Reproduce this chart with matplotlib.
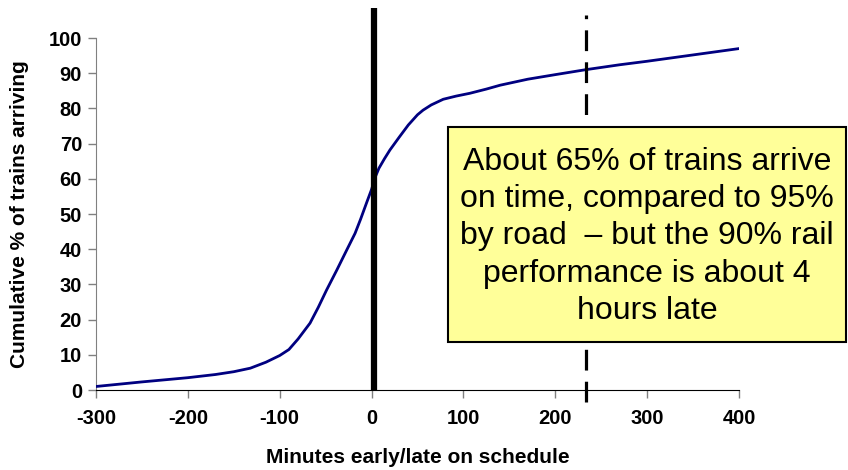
import matplotlib
matplotlib.use("Agg")
import matplotlib.pyplot as plt
from matplotlib.patches import Rectangle

plt.rcParams['font.family'] = ['Liberation Sans', 'DejaVu Sans']

# cumulative arrival curve (minutes vs % of trains)
minutes = [-300, -250, -200, -170, -150, -132, -115, -100, -90, -80, -67, -58,
           -49, -38, -27, -18, -12, -5, 0, 4, 8, 14, 20, 30, 40, 50, 56, 65,
           78, 92, 107, 125, 140, 170, 200, 233, 270, 300, 350, 400]
cum_pct = [1.0, 2.3, 3.5, 4.4, 5.2, 6.2, 7.9, 9.8, 11.5, 14.5, 19.0, 23.5,
           28.4, 34.0, 39.8, 44.5, 48.5, 53.5, 57.0, 60.5, 63.0, 65.7, 68.2,
           71.8, 75.3, 78.2, 79.5, 81.0, 82.6, 83.5, 84.3, 85.5, 86.6, 88.3,
           89.6, 91.0, 92.4, 93.4, 95.2, 97.0]

on_time_x = 3      # schedule marker
late90_x = 233     # 90% of trains arrived

xticks = [-300, -200, -100, 0, 100, 200, 300, 400]
yticks = list(range(0, 101, 10))

note = ("About 65% of trains arrive\non time, compared to 95%\n"
        "by road  \u2013 but the 90% rail\nperformance is about 4\nhours late")

fig = plt.figure(figsize=(8.48, 4.70), dpi=100)
ax = fig.add_axes([0.1132, 0.1702, 0.7583, 0.7489])

ax.plot(minutes, cum_pct, color='#000080', lw=2.0, zorder=3)

# vertical reference lines run a bit past the axes
ax.plot([on_time_x, on_time_x], [0, 108.5], color='black', lw=4.5,
        solid_capstyle='butt', clip_on=False, zorder=4)
ax.plot([late90_x, late90_x], [-3.4, 106.5], color='black', lw=2.3,
        dashes=(6.5, 3.5), clip_on=False, zorder=4)

ax.set_xlim(-300, 400)
ax.set_ylim(0, 100)
ax.set_xticks(xticks)
ax.set_yticks(yticks)
ax.set_xticklabels([str(v) for v in xticks], fontsize=14.5, fontweight='bold')
ax.set_yticklabels([str(v) for v in yticks], fontsize=14.5, fontweight='bold')
ax.tick_params(axis='both', direction='out', length=6, width=1,
               color='#808080', pad=4)
ax.tick_params(axis='x', pad=8)

for s in ['top', 'right']:
    ax.spines[s].set_visible(False)
ax.spines['left'].set_color('#808080')
ax.spines['bottom'].set_color('black')

ax.set_xlabel('Minutes early/late on schedule', fontsize=15, fontweight='bold',
              labelpad=14)
ax.set_ylabel('Cumulative % of trains arriving', fontsize=15, fontweight='bold',
              labelpad=14)

# annotation box
fig.patches.append(Rectangle((0.5283, 0.2723), 0.4695, 0.4575,
                             transform=fig.transFigure, facecolor='#FFFF99',
                             edgecolor='black', lw=1.5, zorder=5))
fig.text(0.763, 0.497, note, ha='center', va='center', fontsize=23,
         linespacing=1.32, zorder=6)

fig.savefig('out.png', dpi=100)
